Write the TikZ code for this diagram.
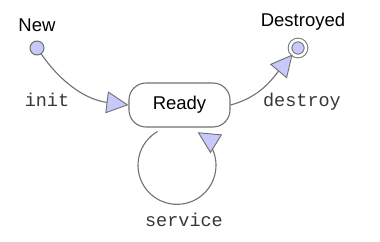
\documentclass[tikz,border=0pt]{standalone}
\usepackage{fontspec}
\setmainfont{Liberation Sans}
\setmonofont{Liberation Mono}
\usepackage{xcolor}
\definecolor{LineGray}{RGB}{112,112,112}
\definecolor{FillLavender}{RGB}{200,200,250}
\definecolor{TextGray}{RGB}{55,55,55}
\usepackage{tikz}
\usetikzlibrary{arrows.meta, positioning}
\tikzset{
  % Initial and final dots
  startdot/.style={
    circle, draw=LineGray, line width=1pt,
    fill=FillLavender, minimum size=14pt, inner sep=0pt
  },
  enddot/.style={startdot, minimum size=16pt, double, double distance=2.6pt},
  % State box
  statebox/.style={
    rectangle, rounded corners=17pt,
    draw=LineGray, line width=1.1pt,
    minimum width=101pt, minimum height=44pt,
    font=\fontsize{18.5}{20}\selectfont
  },
  % Texts
  statelabel/.style={font=\fontsize{18.5}{20}\selectfont, inner sep=0pt},
  evlabel/.style={font=\ttfamily\fontsize{18.5}{20}\selectfont, text=TextGray, inner sep=0pt},
  % Arrows
  arr/.style={-{Triangle[length=22pt,width=22pt,fill=FillLavender,line width=0.9pt]},
    line width=1.1pt, LineGray},
}

\begin{document}
\begin{tikzpicture}[x=1pt, y=1pt]
  \useasboundingbox (0,0) rectangle (380,241);

  %% States
  \node[startdot] (new) at (37,193) {};
  \node[statebox] (ready) at (179.5,136) {Ready};
  \node[enddot] (dest) at (298,193) {};

  \node[statelabel, above=9pt of new] (newlbl) {New};
  \node[statelabel, above=9pt of dest, xshift=5pt] (destlbl) {Destroyed};

  %% Transitions
  \draw[arr] (new) to[out=-55, in=173] (ready.west);
  \draw[arr] (ready.east) to[out=15, in=-130] (dest);
  \draw[arr] ([xshift=-22pt, yshift=-4pt]ready.south)
    arc[start angle=120, end angle=418, radius=39pt];

  %% Events
  \node[evlabel] (initlbl) at (47,141) {init};
  \node[evlabel] (destroylbl) at (302,139) {destroy};
  \node[evlabel] (servicelbl) at (184,21) {service};

\end{tikzpicture}
\end{document}
